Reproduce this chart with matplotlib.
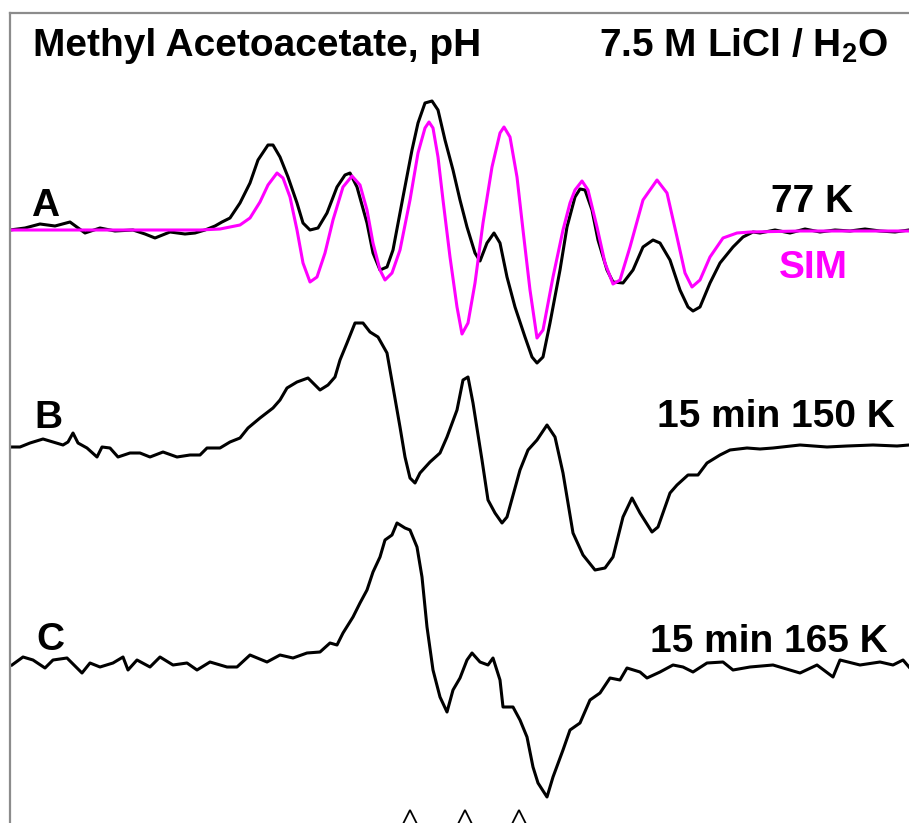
import matplotlib
matplotlib.use('Agg')
import matplotlib.pyplot as plt

plt.rcParams['font.family'] = ['Liberation Sans', 'DejaVu Sans']
plt.rcParams['mathtext.fontset'] = 'custom'
plt.rcParams['mathtext.bf'] = 'Liberation Sans:bold'
plt.rcParams['mathtext.rm'] = 'Liberation Sans:bold'

# traces (x = field position, y = signal, screen units, down is larger)
a_x = [10, 25, 40, 55, 70, 85, 100, 115, 133, 145, 155, 170, 185, 195, 205, 215, 222, 230, 240, 250,
       258, 268, 273, 280, 288, 297, 303, 310, 318, 327, 337, 345, 350, 357, 367, 373, 380, 387,
       393, 403, 412, 418, 425, 432, 438, 445, 453, 460, 467, 475, 480, 487, 494, 500, 507, 515,
       525, 532, 537, 543, 550, 560, 567, 575, 580, 585, 592, 598, 607, 613, 623, 633, 643, 653,
       660, 670, 680, 688, 693, 700, 710, 720, 733, 743, 753, 760, 775, 790, 805, 820, 835, 850,
       865, 880, 895, 909]
a_y = [230, 228, 224, 226, 222, 233, 228, 231, 230, 234, 238, 232, 234, 233, 230, 226, 222, 218, 203, 183,
       160, 145, 145, 157, 177, 203, 223, 230, 228, 213, 187, 175, 173, 187, 223, 253, 270, 267,
       250, 197, 150, 123, 103, 101, 110, 140, 170, 200, 227, 253, 261, 243, 233, 243, 277, 307,
       337, 357, 363, 357, 323, 270, 227, 197, 189, 190, 210, 240, 270, 282, 283, 270, 247, 240,
       243, 260, 290, 307, 311, 307, 283, 263, 247, 237, 232, 233, 230, 233, 229, 232, 230, 231,
       229, 231, 232, 230]

sim_x = [10, 100, 200, 220, 230, 240, 250, 260, 268, 277, 283, 290, 297, 303, 310, 317, 325, 333,
         343, 352, 360, 367, 373, 380, 385, 392, 400, 410, 418, 425, 429, 433, 438, 443, 450, 457,
         462, 468, 475, 483, 492, 500, 504, 510, 517, 523, 530, 537, 543, 553, 563, 570, 575, 582,
         588, 597, 605, 613, 620, 630, 643, 657, 667, 677, 685, 692, 700, 710, 723, 737, 750, 800,
         909]
sim_y = [230, 230, 230, 229, 227, 225, 218, 202, 185, 173, 178, 197, 230, 263, 282, 277, 253, 220,
         187, 176, 185, 210, 243, 270, 280, 273, 250, 200, 153, 128, 122, 128, 157, 200, 257, 307,
         334, 323, 283, 223, 167, 133, 127, 137, 177, 230, 290, 338, 330, 277, 230, 203, 190, 181,
         190, 227, 263, 284, 280, 247, 200, 180, 193, 237, 273, 287, 280, 257, 238, 233, 232, 231,
         231]

b_x = [12, 20, 30, 43, 53, 63, 68, 73, 78, 87, 97, 102, 110, 118, 130, 140, 150, 163, 177, 190,
       200, 207, 220, 230, 240, 248, 260, 273, 280, 287, 297, 308, 315, 320, 328, 335, 340, 347,
       355, 363, 370, 378, 387, 393, 400, 405, 410, 415, 420, 430, 440, 447, 457, 463, 468, 473,
       482, 488, 495, 502, 507, 520, 528, 537, 547, 555, 563, 573, 583, 595, 605, 613, 623, 632,
       640, 652, 658, 670, 677, 688, 698, 707, 720, 730, 747, 760, 773, 800, 827, 847, 873, 897, 909]
b_y = [447, 447, 443, 439, 442, 445, 442, 433, 443, 448, 457, 447, 448, 457, 453, 453, 457, 452, 457, 455,
       455, 448, 448, 442, 438, 428, 418, 408, 400, 388, 382, 378, 385, 390, 385, 377, 360, 343,
       323, 323, 332, 337, 353, 387, 427, 457, 478, 483, 473, 462, 453, 437, 410, 380, 377, 403,
       460, 500, 513, 523, 517, 470, 450, 440, 425, 437, 473, 533, 555, 570, 568, 557, 517, 498,
       513, 532, 527, 493, 485, 475, 475, 463, 455, 450, 448, 449, 448, 445, 447, 446, 445, 446, 445]

c_x = [12, 23, 33, 45, 53, 67, 82, 90, 100, 113, 123, 128, 137, 150, 160, 173, 187, 197, 210, 227,
       237, 250, 267, 280, 293, 307, 320, 330, 337, 343, 353, 360, 367, 373, 380, 385, 392, 397,
       405, 410, 417, 422, 427, 433, 440, 447, 453, 460, 467, 472, 480, 488, 493, 500, 503, 513,
       520, 527, 533, 538, 547, 553, 563, 570, 580, 590, 600, 610, 620, 627, 640, 647, 660, 673,
       683, 693, 707, 723, 733, 750, 773, 800, 817, 833, 840, 860, 880, 893, 903, 909]
c_y = [665, 657, 660, 668, 660, 658, 673, 663, 667, 663, 657, 670, 660, 667, 657, 665, 663, 670, 662, 667,
       667, 655, 662, 655, 658, 653, 652, 643, 645, 633, 617, 603, 590, 572, 557, 540, 535, 523,
       528, 530, 547, 577, 627, 670, 697, 712, 690, 678, 660, 653, 662, 665, 658, 680, 707, 707,
       720, 737, 767, 783, 797, 777, 750, 730, 723, 700, 693, 678, 680, 668, 672, 678, 672, 665,
       667, 672, 663, 662, 670, 667, 665, 673, 665, 677, 660, 665, 662, 665, 660, 667]

# open triangles marking line positions under trace C
tri_x = [410, 465, 519]

fig = plt.figure(figsize=(9.09, 8.23), dpi=100)
ax = fig.add_axes([10 / 909, 0, 1 - 10 / 909, 1 - 13 / 823])
ax.set_xlim(10, 909)
ax.set_ylim(823, 13)

lw = 2.2
ax.plot(a_x, a_y, color='black', lw=lw, solid_joinstyle='round')
ax.plot(sim_x, sim_y, color='#ff00ff', lw=lw, solid_joinstyle='round')
ax.plot(b_x, b_y, color='black', lw=lw, solid_joinstyle='round')
ax.plot(c_x, c_y, color='black', lw=lw, solid_joinstyle='round')
ax.plot(tri_x, [824] * len(tri_x), '^', ms=20, mfc='none', mec='black', mew=1.3, clip_on=False)

for side in ['right', 'bottom']:
    ax.spines[side].set_visible(False)
for side in ['top', 'left']:
    ax.spines[side].set_color('#8c8c8c')
    ax.spines[side].set_linewidth(1.6)
ax.set_xticks([])
ax.set_yticks([])

fs = 28
ax.text(33, 46, 'Methyl Acetoacetate, pH', fontsize=fs, fontweight='bold', va='center', ha='left')
ax.text(888, 46, r'7.5 M LiCl / H$_\mathbf{2}$O', fontsize=fs, fontweight='bold', va='center', ha='right')
ax.text(45, 206, 'A', fontsize=fs, fontweight='bold', va='center', ha='center')
ax.text(48, 418, 'B', fontsize=fs, fontweight='bold', va='center', ha='center')
ax.text(50, 640, 'C', fontsize=fs, fontweight='bold', va='center', ha='center')
ax.text(853, 202, '77 K', fontsize=fs, fontweight='bold', va='center', ha='right')
ax.text(848, 268, 'SIM', fontsize=fs, fontweight='bold', va='center', ha='right', color='#ff00ff')
ax.text(895, 417, '15 min 150 K', fontsize=fs, fontweight='bold', va='center', ha='right')
ax.text(888, 642, '15 min 165 K', fontsize=fs, fontweight='bold', va='center', ha='right')

fig.savefig('out.png', dpi=100)
